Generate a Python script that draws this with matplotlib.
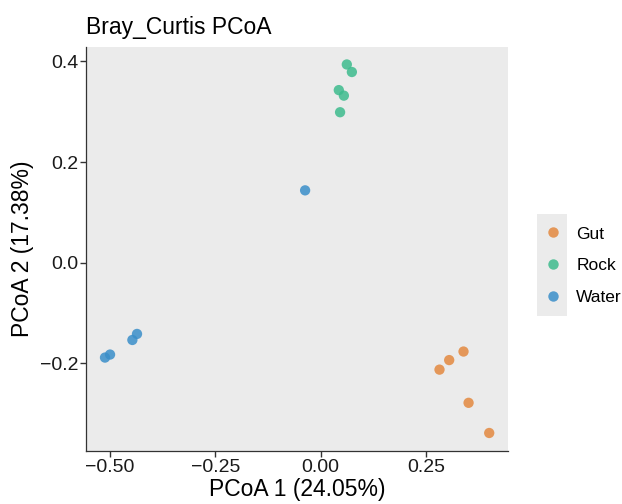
import matplotlib
matplotlib.use("Agg")
import matplotlib.pyplot as plt
from matplotlib.lines import Line2D
from matplotlib.patches import Rectangle

plt.rcParams['font.family'] = ['Liberation Sans', 'DejaVu Sans']

groups = ["Gut", "Rock", "Water"]
colors = {"Gut": "#E3893F", "Rock": "#3DBB8D", "Water": "#3A8EC9"}

gut_x = [0.339, 0.305, 0.282, 0.351, 0.400]
gut_y = [-0.177, -0.194, -0.213, -0.279, -0.339]
rock_x = [0.062, 0.074, 0.043, 0.055, 0.046]
rock_y = [0.394, 0.379, 0.343, 0.332, 0.299]
water_x = [-0.037, -0.436, -0.447, -0.500, -0.512]
water_y = [0.1436, -0.142, -0.154, -0.183, -0.189]

data = {"Gut": (gut_x, gut_y), "Rock": (rock_x, rock_y), "Water": (water_x, water_y)}

xticks = [-0.50, -0.25, 0.00, 0.25]
xticklabels = ["\u22120.50", "\u22120.25", "0.00", "0.25"]
yticks = [-0.2, 0.0, 0.2, 0.4]
yticklabels = ["\u22120.2", "0.0", "0.2", "0.4"]

fig = plt.figure(figsize=(6.22, 5.04), dpi=100)
ax = fig.add_axes([0.139, 0.105, 0.678, 0.802])
ax.set_facecolor("#EBEBEB")

for g in groups:
    x, y = data[g]
    ax.scatter(x, y, s=55, color=colors[g], alpha=0.85, edgecolors='none', zorder=3)

ax.set_xlim(-0.556, 0.445)
ax.set_ylim(-0.375, 0.429)
ax.set_xticks(xticks)
ax.set_xticklabels(xticklabels)
ax.set_yticks(yticks)
ax.set_yticklabels(yticklabels)
ax.tick_params(axis='both', labelsize=14, colors='#333333', labelcolor='#1a1a1a',
               length=4, width=1, pad=2)
for side in ['top', 'right']:
    ax.spines[side].set_visible(False)
for side in ['left', 'bottom']:
    ax.spines[side].set_color('#333333')
    ax.spines[side].set_linewidth(0.9)

ax.set_xlabel("PCoA 1 (24.05%)", fontsize=16.5, labelpad=1)
ax.set_ylabel("PCoA 2 (17.38%)", fontsize=16.5, labelpad=4)
ax.set_title("Bray_Curtis PCoA", fontsize=16.5, loc='left', pad=9)

handles = [Line2D([0], [0], marker='o', linestyle='none', markersize=7.5,
                  markerfacecolor=colors[g], markeredgecolor='none', alpha=0.85, label=g)
           for g in groups]
leg = fig.legend(handles=handles, loc='center left', bbox_to_anchor=(0.872, 0.473),
                 frameon=False, fontsize=12.5, handletextpad=0.75, labelspacing=0.95,
                 handlelength=1.2, borderpad=0, borderaxespad=0)
fig.add_artist(Rectangle((537/622, 1 - 316/504), 30/622, 102/504,
                         transform=fig.transFigure, facecolor="#EBEBEB",
                         edgecolor='none', zorder=0))

fig.savefig("out.png", dpi=100)
